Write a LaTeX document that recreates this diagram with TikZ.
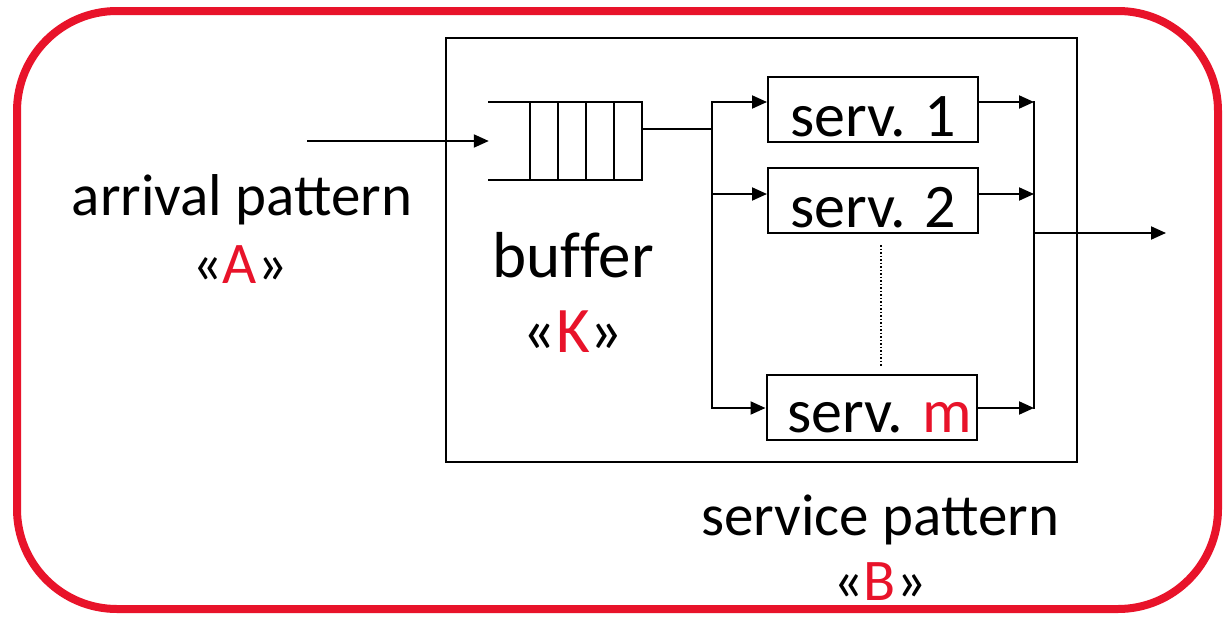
\documentclass[tikz,border=0pt]{standalone}
\usepackage{fontspec}
\setmainfont{Carlito}
\usetikzlibrary{arrows.meta,calc}
\definecolor{bred}{RGB}{232,19,42}
\begin{document}
\begin{tikzpicture}[x=1pt,y=-1pt,
  ln/.style={line width=2pt,line cap=rect},
  arr/.style={line width=2pt,-{Triangle[length=15pt,width=13pt]}},
  srv/.style={draw,line width=2pt,minimum width=210pt,minimum height=65pt,inner sep=0pt,text height=54pt,text depth=0pt,font=\fontsize{62}{62}\selectfont},
  lbl/.style={inner sep=0pt,anchor=base,font=\fontsize{59}{59}\selectfont},
  lblb/.style={inner sep=0pt,anchor=base,font=\fontsize{65}{65}\selectfont}]
\useasboundingbox (0,0) rectangle (1229,619);
\draw[bred,line width=8pt,rounded corners=100pt] (17,11) rectangle (1218,609);
\node[draw,line width=2pt,minimum width=631pt,minimum height=424pt,inner sep=0pt] (box) at (761.5,250) {};
% queue
\node[minimum width=153pt,minimum height=78pt,inner sep=0pt] (q) at (565.5,141) {};
\draw[ln] (q.north west) -- (q.north east) -- (q.south east);
\draw[ln] (q.south west) -- (q.south east);
\foreach \xx in {530,558,586,614}{\draw[ln] (\xx,102) -- (\xx,180);}
% servers
\node[srv] (s1) at (873,109.5) {serv. 1};
\node[srv] (s2) at (873,200.5) {serv. 2};
\node[srv,text height=51pt] (sm) at (871.5,407) {\hspace{16pt}serv. \textcolor{bred}{m}};
% buses
\coordinate (in) at (307,141);
\coordinate (qo) at (642,129);
\coordinate (j) at (712,129);
\coordinate (b1) at (712,102);
\coordinate (b2) at (712,194);
\coordinate (bm) at (712,408);
\coordinate (r1) at (1034,102);
\coordinate (r2) at (1034,194);
\coordinate (rm) at (1034,408);
\coordinate (ro) at (1034,233);
\coordinate (out) at (1166,233);
\draw[arr] (in) -- (q.west);
\draw[ln] (qo) -- (j);
\draw[ln] (b1) -- (bm);
\draw[arr] (b1) -- (b1 -| s1.west);
\draw[arr] (b2) -- (b2 -| s2.west);
\draw[arr] (bm) -- (bm -| sm.west);
\draw[arr] (r1 -| s1.east) -- (r1);
\draw[arr] (r2 -| s2.east) -- (r2);
\draw[arr] (rm -| sm.east) -- (rm);
\draw[ln] (r1) -- (rm);
\draw[arr] (ro) -- (out);
\coordinate (d1) at (881,245);
\coordinate (d2) at (881,367);
\draw[line width=1.5pt,dotted] (d1) -- (d2);
% labels
\node[lbl] (la) at (242,215) {arrival pattern};
\node[lbl] (laa) at (240,283) {«\textcolor{bred}{A}»};
\node[lblb] (lb) at (573,277) {buf\kern0pt fer};
\node[lblb] (lbb) at (573,352) {«\textcolor{bred}{K}»};
\node[lbl] (lc) at (880,535) {service pattern};
\node[lbl] (lcc) at (880,600) {«\textcolor{bred}{B}»};
\end{tikzpicture}
\end{document}
